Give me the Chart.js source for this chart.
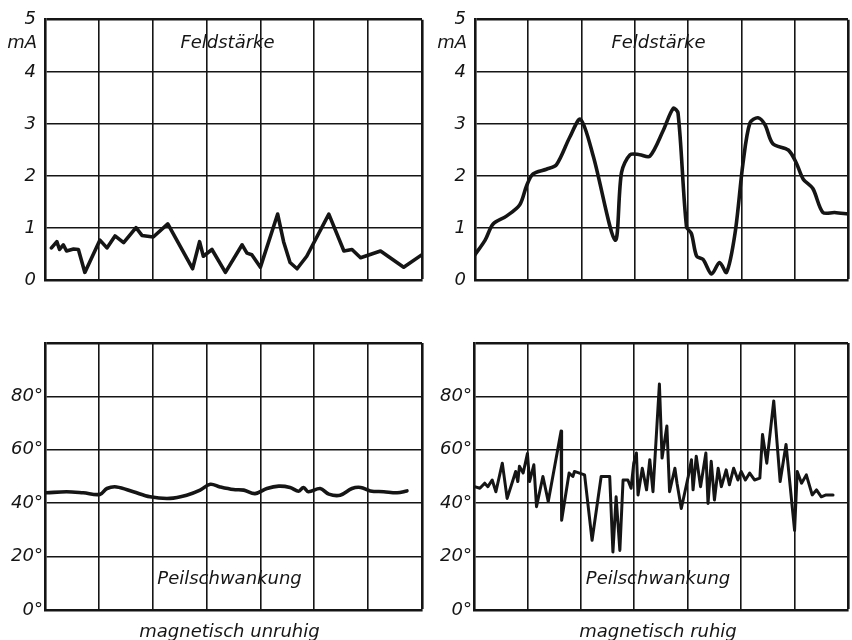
<!DOCTYPE html>
<html>
<head>
<meta charset="utf-8">
<script src="https://cdn.jsdelivr.net/npm/chart.js@4.4.1/dist/chart.umd.min.js"></script>
<style>
  body { margin: 0; background: #fff; }
  #wrap { position: relative; width: 852px; height: 640px; }
  canvas { position: absolute; }
</style>
</head>
<body>
<div id="wrap">
  <canvas id="c1" width="430" height="300" style="left:0;top:0"></canvas>
  <canvas id="c2" width="422" height="300" style="left:430px;top:0"></canvas>
  <canvas id="c3" width="430" height="340" style="left:0;top:300px"></canvas>
  <canvas id="c4" width="422" height="340" style="left:430px;top:300px"></canvas>
</div>
<script>
// Feldstärke (mA), magnetisch unruhig
const feldUnruhigX = [0.12, 0.22, 0.27, 0.34, 0.40, 0.53, 0.62, 0.74, 1.02, 1.15, 1.30, 1.46, 1.69, 1.80, 2.01, 2.28, 2.74, 2.87, 2.94, 3.10, 3.35, 3.66, 3.75, 3.84, 4.00, 4.32, 4.43, 4.55, 4.68, 4.86, 5.27, 5.55, 5.70, 5.86, 6.23, 6.66, 7.00];
const feldUnruhigY = [0.62, 0.74, 0.59, 0.68, 0.56, 0.60, 0.59, 0.15, 0.77, 0.62, 0.85, 0.72, 1.01, 0.86, 0.83, 1.08, 0.22, 0.74, 0.46, 0.59, 0.15, 0.68, 0.52, 0.49, 0.25, 1.27, 0.74, 0.34, 0.22, 0.46, 1.27, 0.56, 0.59, 0.43, 0.56, 0.25, 0.49];

// Feldstärke (mA), magnetisch ruhig
const feldRuhigX = [0, 0.19, 0.34, 0.59, 0.84, 0.97, 1.09, 1.34, 1.53, 1.78, 1.98, 2.22, 2.63, 2.75, 2.91, 3.09, 3.28, 3.53, 3.72, 3.81, 3.97, 4.06, 4.16, 4.28, 4.44, 4.59, 4.72, 4.88, 5.03, 5.16, 5.31, 5.44, 5.59, 5.88, 6.03, 6.16, 6.34, 6.53, 6.75, 7.00];
const feldRuhigY = [0.49, 0.77, 1.08, 1.23, 1.45, 1.82, 2.04, 2.13, 2.22, 2.75, 3.09, 2.38, 0.77, 2.07, 2.41, 2.41, 2.38, 2.87, 3.30, 3.21, 1.02, 0.90, 0.46, 0.40, 0.12, 0.34, 0.15, 0.90, 2.25, 3.02, 3.12, 2.99, 2.62, 2.50, 2.25, 1.94, 1.76, 1.30, 1.30, 1.27];

// Peilschwankung (Grad), magnetisch unruhig
const peilUnruhigX = [0.03, 0.40, 0.71, 1.02, 1.15, 1.33, 1.64, 1.95, 2.32, 2.63, 2.88, 3.07, 3.25, 3.50, 3.69, 3.90, 4.12, 4.34, 4.55, 4.71, 4.80, 4.89, 5.11, 5.27, 5.48, 5.70, 5.86, 6.04, 6.29, 6.54, 6.72];
const peilUnruhigY = [43.9, 44.3, 43.9, 43.3, 45.5, 46.1, 44.3, 42.4, 41.8, 43.0, 44.9, 47.1, 46.1, 45.1, 44.9, 43.6, 45.5, 46.4, 45.9, 44.5, 45.9, 44.3, 45.5, 43.4, 43.0, 45.5, 45.9, 44.6, 44.3, 43.9, 44.6];

// Peilschwankung (Grad), magnetisch ruhig
const peilRuhigX = [0.01, 0.11, 0.20, 0.26, 0.34, 0.41, 0.53, 0.62, 0.73, 0.78, 0.82, 0.85, 0.92, 1.00, 1.04, 1.12, 1.17, 1.29, 1.39, 1.63, 1.64, 1.78, 1.85, 1.88, 2.07, 2.21, 2.38, 2.54, 2.60, 2.66, 2.73, 2.79, 2.88, 2.94, 2.99, 3.04, 3.07, 3.15, 3.23, 3.29, 3.35, 3.47, 3.52, 3.61, 3.66, 3.76, 3.80, 3.88, 4.01, 4.07, 4.10, 4.16, 4.24, 4.34, 4.38, 4.44, 4.50, 4.57, 4.63, 4.72, 4.78, 4.86, 4.94, 5.00, 5.08, 5.16, 5.25, 5.35, 5.40, 5.48, 5.61, 5.73, 5.84, 6.00, 6.05, 6.13, 6.22, 6.33, 6.41, 6.50, 6.59, 6.72];
const peilRuhigY = [46.2, 45.6, 47.5, 46.2, 48.7, 44.3, 55.0, 41.8, 48.7, 51.9, 48.1, 53.8, 51.3, 58.6, 48.1, 54.4, 38.7, 50.0, 40.6, 67.0, 33.6, 51.3, 50.0, 51.9, 50.6, 26.1, 50.0, 50.0, 21.7, 42.4, 22.3, 48.7, 48.7, 45.6, 55.0, 58.8, 43.1, 53.1, 45.0, 56.3, 44.3, 84.6, 56.9, 68.9, 44.3, 53.1, 47.5, 38.0, 50.0, 56.3, 45.0, 57.6, 46.2, 58.8, 39.9, 55.7, 41.2, 53.1, 46.2, 52.5, 46.9, 53.1, 48.7, 51.9, 48.7, 51.3, 48.7, 49.4, 65.7, 55.0, 78.3, 48.1, 62.0, 29.8, 51.9, 47.5, 50.6, 43.1, 45.0, 42.4, 43.1, 43.1];

const feldTicks = ['0', '1', '2', '3', '4', '5'];
const peilTicks = ['0°', '20°', '40°', '60°', '80°', ''];

const INK = '#151515';
const FONT = 'DejaVu Sans';

function pts(xs, ys) {
  return xs.map((x, i) => ({ x: x, y: ys[i] }));
}

// titles inside the panel, caption under it, "mA" unit next to the axis
const panelText = {
  id: 'panelText',
  afterDraw(chart, args, opts) {
    const ctx = chart.ctx;
    const a = chart.chartArea;
    const ys = chart.scales.y;
    ctx.save();
    ctx.fillStyle = INK;
    ctx.font = 'italic 18px "' + FONT + '"';
    ctx.textBaseline = 'middle';
    ctx.textAlign = 'center';
    const cx = (a.left + a.right) / 2 + (opts.dx || 0);
    ctx.fillText(opts.title, cx, ys.getPixelForValue(opts.titleAt));
    if (opts.caption) {
      ctx.textBaseline = 'alphabetic';
      ctx.fillText(opts.caption, cx, a.bottom + 27);
    }
    if (opts.unit) {
      ctx.textAlign = 'right';
      ctx.textBaseline = 'middle';
      ctx.fillText(opts.unit, a.left - 8, ys.getPixelForValue(opts.unitAt));
    }
    ctx.restore();
  }
};

function makeChart(id, xs, ys, cfg) {
  const max = cfg.max;
  return new Chart(document.getElementById(id), {
    type: 'line',
    data: {
      datasets: [{
        data: pts(xs, ys),
        borderColor: INK,
        borderWidth: cfg.lineWidth,
        tension: cfg.tension,
        pointRadius: 0,
        borderJoinStyle: 'round',
        borderCapStyle: 'round',
        fill: false
      }]
    },
    options: {
      responsive: false,
      animation: false,
      events: [],
      layout: { padding: cfg.padding },
      plugins: {
        legend: { display: false },
        tooltip: { enabled: false },
        panelText: cfg.text
      },
      scales: {
        x: {
          type: 'linear',
          min: 0,
          max: 7,
          ticks: { stepSize: 1, display: false },
          grid: {
            color: INK,
            drawTicks: false,
            lineWidth: (c) => (c.tick && c.tick.value === 7 ? 2.6 : 1.6)
          },
          border: { color: INK, width: 2.6 }
        },
        y: {
          min: 0,
          max: max,
          afterFit: (scale) => { scale.width = cfg.axisWidth; },
          ticks: {
            stepSize: cfg.step,
            color: INK,
            padding: cfg.tickPad,
            font: { family: FONT, size: 18, style: 'italic' },
            callback: (v, i) => cfg.labels[i]
          },
          grid: {
            color: INK,
            drawTicks: false,
            lineWidth: (c) => (c.tick && c.tick.value === max ? 2.6 : 1.6)
          },
          border: { color: INK, width: 2.6 }
        }
      }
    },
    plugins: [panelText]
  });
}

makeChart('c1', feldUnruhigX, feldUnruhigY, {
  max: 5, step: 1, labels: feldTicks, lineWidth: 3.6, tension: 0,
  axisWidth: 45, tickPad: 9,
  padding: { left: 0, right: 8, top: 18, bottom: 12 },
  text: { title: 'Feldstärke', titleAt: 4.55, dx: -6, unit: 'mA', unitAt: 4.55 }
});

makeChart('c2', feldRuhigX, feldRuhigY, {
  max: 5, step: 1, labels: feldTicks, lineWidth: 3.6, tension: 0.3,
  axisWidth: 45, tickPad: 9,
  padding: { left: 0, right: 4, top: 18, bottom: 12 },
  text: { title: 'Feldstärke', titleAt: 4.55, dx: -3, unit: 'mA', unitAt: 4.55 }
});

makeChart('c3', peilUnruhigX, peilUnruhigY, {
  max: 100, step: 20, labels: peilTicks, lineWidth: 3.6, tension: 0.35,
  axisWidth: 45, tickPad: 2,
  padding: { left: 0, right: 8, top: 43, bottom: 30 },
  text: { title: 'Peilschwankung', titleAt: 11.5, dx: -4, caption: 'magnetisch unruhig' }
});

makeChart('c4', peilRuhigX, peilRuhigY, {
  max: 100, step: 20, labels: peilTicks, lineWidth: 3, tension: 0,
  axisWidth: 44, tickPad: 2,
  padding: { left: 0, right: 4, top: 43, bottom: 30 },
  text: { title: 'Peilschwankung', titleAt: 11.5, dx: -3, caption: 'magnetisch ruhig' }
});
</script>
</body>
</html>
